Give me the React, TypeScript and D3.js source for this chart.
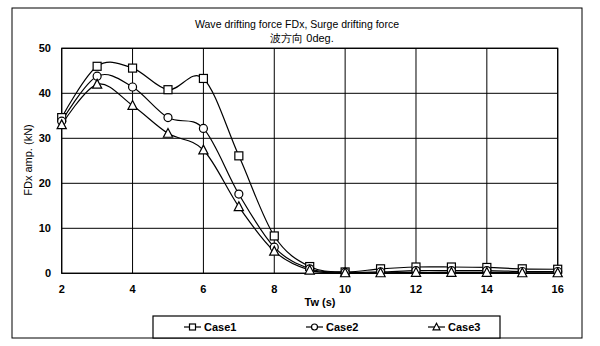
import React from "react";
import * as d3 from "d3";

const periods = [2, 3, 4, 5, 6, 7, 8, 9, 10, 11, 12, 13, 14, 15, 16];
const case1 = [34.6, 46.0, 45.6, 40.8, 43.3, 26.1, 8.3, 1.5, 0.3, 1.0, 1.4, 1.4, 1.3, 1.0, 0.9];
const case2 = [33.8, 43.8, 41.4, 34.6, 32.2, 17.6, 5.8, 1.0, 0.2, 0.3, 0.6, 0.6, 0.6, 0.4, 0.4];
const case3 = [33.0, 42.0, 37.3, 31.1, 27.4, 14.8, 4.9, 0.7, 0.1, 0.1, 0.2, 0.2, 0.2, 0.1, 0.1];
const seriesNames = ["Case1", "Case2", "Case3"];
const markerKinds = ["square", "circle", "triangle"];
const xTicks = [2, 4, 6, 8, 10, 12, 14, 16];
const yTicks = [0, 10, 20, 30, 40, 50];
const titleLine1 = "Wave drifting force FDx,  Surge drifting force";
const titleLine2 = "波方向 0deg.";
const xLabel = "Tw (s)";
const yLabel = "FDx amp. (kN)";

const W = 600;
const H = 346;
const plot = { left: 61.7, right: 557.7, top: 48.3, bottom: 273.3 };
const font = "'Liberation Sans', Arial, sans-serif";

function Marker({ kind, x, y, s = 4 }: { kind: string; x: number; y: number; s?: number }) {
  if (kind === "square")
    return <rect x={x - s} y={y - s} width={2 * s} height={2 * s} fill="#fff" stroke="#000" strokeWidth={1.2} />;
  if (kind === "circle")
    return <circle cx={x} cy={y} r={s} fill="#fff" stroke="#000" strokeWidth={1.2} />;
  const h = 2.2 * s;
  return (
    <path
      d={`M${x},${y - h / 2 - 0.5}L${x + 1.15 * s},${y + h / 2 - 0.5}L${x - 1.15 * s},${y + h / 2 - 0.5}Z`}
      fill="#fff"
      stroke="#000"
      strokeWidth={1.2}
    />
  );
}

export default function App() {
  const x = d3.scaleLinear().domain([2, 16]).range([plot.left, plot.right]);
  const y = d3.scaleLinear().domain([0, 50]).range([plot.bottom, plot.top]);
  const line = d3
    .line<number>()
    .x((_, i) => x(periods[i]))
    .y((d) => y(d))
    .curve(d3.curveCardinal.tension(0));
  const series = [case1, case2, case3];

  const legendStarts = [184, 306, 428];

  return (
    <svg
      width={W}
      height={H}
      style={{ position: "absolute", left: 0, top: 0, background: "#fff", fontFamily: font }}
    >
      <rect x={0} y={0} width={W} height={H} fill="#fff" />
      <rect x={12} y={8} width={570} height={330} fill="none" stroke="#000" strokeWidth={1} />
      <text x={297} y={28} textAnchor="middle" fontSize={11} textLength={204} lengthAdjust="spacingAndGlyphs">
        {titleLine1}
      </text>
      <text x={302} y={42} textAnchor="middle" fontSize={11}>
        {titleLine2}
      </text>

      {/* grid */}
      {xTicks.map((t) => (
        <line key={"gx" + t} x1={x(t)} x2={x(t)} y1={plot.top} y2={plot.bottom} stroke="#000" strokeWidth={1} />
      ))}
      {yTicks.map((t) => (
        <line key={"gy" + t} x1={plot.left} x2={plot.right} y1={y(t)} y2={y(t)} stroke="#000" strokeWidth={1} />
      ))}
      <rect
        x={plot.left}
        y={plot.top}
        width={plot.right - plot.left}
        height={plot.bottom - plot.top}
        fill="none"
        stroke="#000"
        strokeWidth={1.2}
      />

      {/* tick labels */}
      {yTicks.map((t) => (
        <text key={"ty" + t} x={51} y={y(t) + 4} textAnchor="end" fontSize={11} fontWeight="bold">
          {t}
        </text>
      ))}
      {xTicks.map((t) => (
        <text key={"tx" + t} x={x(t)} y={293} textAnchor="middle" fontSize={11} fontWeight="bold">
          {t}
        </text>
      ))}
      <text x={320} y={306} textAnchor="middle" fontSize={11} fontWeight="bold">
        {xLabel}
      </text>
      <text transform={`translate(32,160) rotate(-90)`} textAnchor="middle" fontSize={11}>
        {yLabel}
      </text>

      {/* series */}
      {series.map((s, si) => (
        <path key={"l" + si} d={line(s) || ""} fill="none" stroke="#000" strokeWidth={1.2} />
      ))}
      {series.map((s, si) =>
        s.map((v, i) => <Marker key={`m${si}-${i}`} kind={markerKinds[si]} x={x(periods[i])} y={y(v)} />)
      )}

      {/* legend */}
      <rect x={153} y={316} width={347} height={22} fill="#fff" stroke="#000" strokeWidth={1.2} />
      {seriesNames.map((n, i) => (
        <g key={"lg" + i}>
          <line x1={legendStarts[i]} x2={legendStarts[i] + 17} y1={327} y2={327} stroke="#000" strokeWidth={1.2} />
          <Marker kind={markerKinds[i]} x={legendStarts[i] + 8.5} y={327} s={3} />
          <text x={legendStarts[i] + 20} y={331} fontSize={11} fontWeight="bold">
            {n}
          </text>
        </g>
      ))}
    </svg>
  );
}
